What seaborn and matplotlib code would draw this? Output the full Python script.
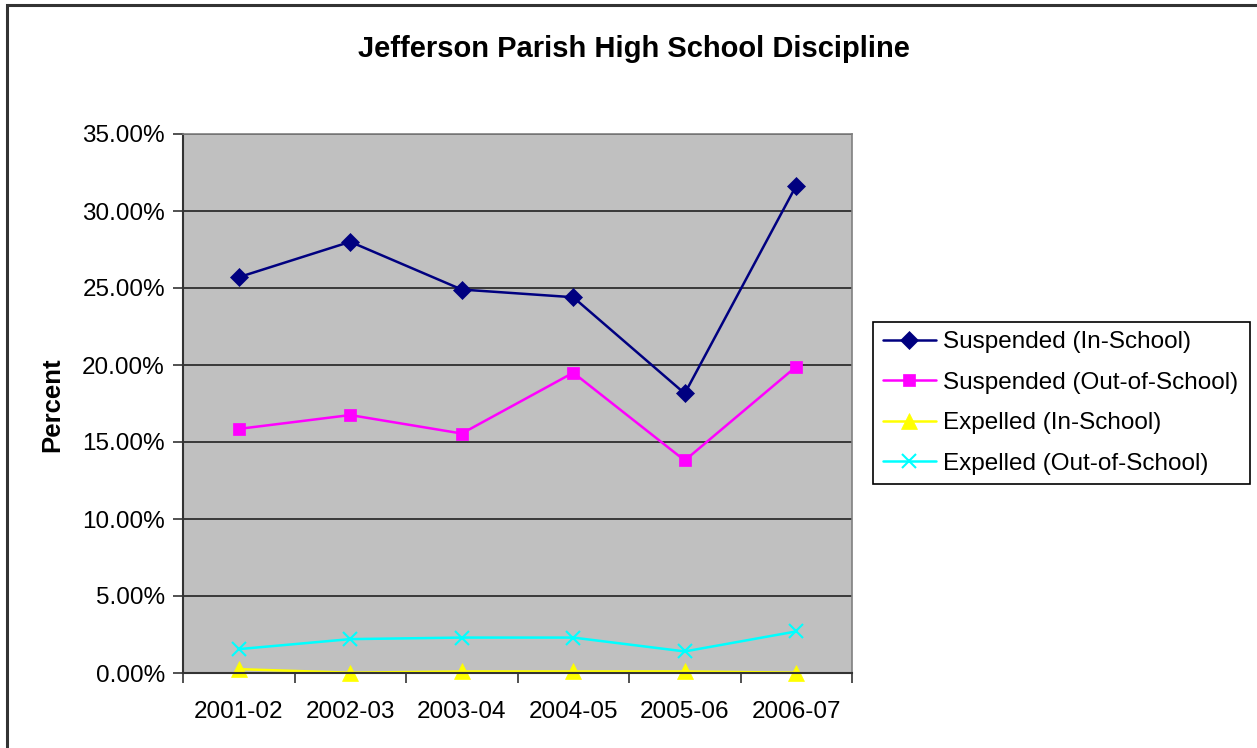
import matplotlib
matplotlib.use("Agg")
import matplotlib.pyplot as plt
import matplotlib.patches as mpatches
import seaborn as sns
import pandas as pd
import numpy as np

years = ["2001-02", "2002-03", "2003-04", "2004-05", "2005-06", "2006-07"]
susp_in = [25.7, 28.0, 24.9, 24.4, 18.15, 31.65]
susp_out = [15.85, 16.75, 15.55, 19.5, 13.8, 19.9]
exp_in = [0.25, 0.02, 0.1, 0.1, 0.1, 0.02]
exp_out = [1.55, 2.2, 2.3, 2.3, 1.4, 2.7]
series_names = ["Suspended (In-School)", "Suspended (Out-of-School)",
                "Expelled (In-School)", "Expelled (Out-of-School)"]
yticks = [0, 5, 10, 15, 20, 25, 30, 35]

colors = ["#000080", "#FF00FF", "#FFFF00", "#00FFFF"]
markers = ["D", "s", "^", "x"]
msizes = [9, 9, 11, 10]

sns.set_theme(style="white")
plt.rcParams['font.family'] = ['Liberation Sans', 'DejaVu Sans']
plt.rcParams['text.color'] = 'black'
plt.rcParams['xtick.color'] = 'black'
plt.rcParams['ytick.color'] = 'black'

frames = []
for name, vals in zip(series_names, [susp_in, susp_out, exp_in, exp_out]):
    frames.append(pd.DataFrame({"Year": years, "Value": vals, "Series": name}))
df = pd.concat(frames, ignore_index=True)

fig = plt.figure(figsize=(12.57, 7.48), dpi=100)
fig.patch.set_facecolor("white")
ax = fig.add_axes([183/1257, 1-673/748, 669/1257, 539/748])
ax.set_facecolor("#C0C0C0")

for name, c, m, ms in zip(series_names, colors, markers, msizes):
    sub = df[df["Series"] == name]
    sns.lineplot(data=sub, x="Year", y="Value", ax=ax, color=c, marker=m,
                 markersize=ms, linewidth=1.8, markeredgecolor=c,
                 markeredgewidth=1.5 if m == "x" else 0.5, label=name, sort=False,
                 clip_on=False)

ax.set_xlim(-0.5, len(years) - 0.5)
ax.set_ylim(0, 35)
ax.set_yticks(yticks)
ax.set_yticklabels([f"{v:.2f}%" for v in yticks], fontsize=17.5)
ax.yaxis.grid(True, color="#222222", linewidth=1.2)
ax.set_axisbelow(True)

ax.set_xticks(np.arange(-0.5, len(years), 1.0))
ax.set_xticklabels([""] * (len(years) + 1))
ax.set_xticks(np.arange(len(years)), minor=True)
ax.set_xticklabels(years, minor=True, fontsize=17.5)
ax.tick_params(axis="x", which="major", direction="out", length=7, width=1.2, color="#333333", bottom=True)
ax.tick_params(axis="x", which="minor", length=0, pad=20)
ax.tick_params(axis="y", direction="out", length=7, width=1.2, color="#333333", left=True, pad=6)

for s in ["left", "bottom"]:
    ax.spines[s].set_color("#333333")
    ax.spines[s].set_linewidth(1.5)
for s in ["top", "right"]:
    ax.spines[s].set_color("#808080")
    ax.spines[s].set_linewidth(1.2)

ax.set_xlabel("")
ax.set_ylabel("")
fig.text(52/1257, 1-405/748, "Percent", rotation=90, fontsize=18.5, fontweight="bold",
         ha="center", va="center")
fig.text(634/1257, 1-49/748, "Jefferson Parish High School Discipline", fontsize=21,
         fontweight="bold", ha="center", va="center")

leg = ax.legend(loc="center left", bbox_to_anchor=(873/1257, 1-483/748, 377/1257, 160/748),
                bbox_transform=fig.transFigure, mode="expand", fontsize=17.5,
                frameon=True, fancybox=False, edgecolor="black", framealpha=1,
                handlelength=2.2, labelspacing=0.76, borderpad=0.4, handletextpad=0.3,
                borderaxespad=0)
leg.get_frame().set_linewidth(1.2)

border = mpatches.Rectangle((7/1257, -0.05), 1.2, 1.05 - 5/748, transform=fig.transFigure,
                            fill=False, edgecolor="#333333", linewidth=2.2)
fig.patches.append(border)

fig.savefig("out.png", dpi=100, facecolor="white")
